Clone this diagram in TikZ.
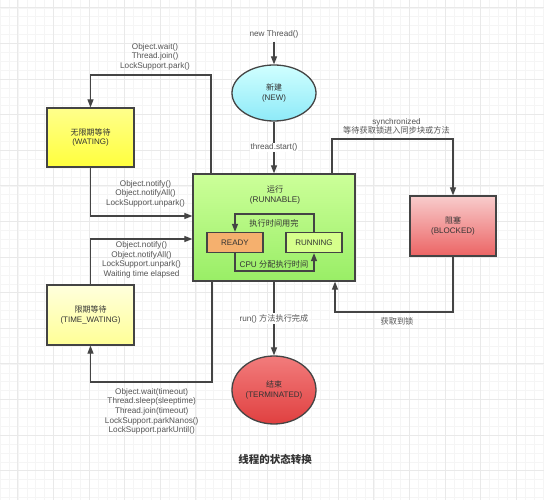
\documentclass[tikz,border=0pt]{standalone}
\usepackage{fontspec}
\setmainfont{Liberation Sans}
\newfontfamily\cjk{Noto Sans CJK SC}
\usetikzlibrary{shapes.geometric,arrows.meta}
\definecolor{linec}{HTML}{444444}
\definecolor{txtc}{HTML}{333333}
\definecolor{lblc}{HTML}{555555}
\definecolor{gminor}{HTML}{F5F5F5}
\definecolor{gmajor}{HTML}{E9E9E9}
\tikzset{
  state/.style={draw=linec, line width=1.3pt, text=txtc, font=\fontsize{8}{9.4}\selectfont, align=center, inner sep=0pt},
  box/.style={state, rectangle},
  oval/.style={state, ellipse},
  conn/.style={draw=linec, line width=1.2pt, -{Triangle[length=8pt,width=6pt]}},
  lbl/.style={text=lblc, font=\fontsize{8.2}{9.6}\selectfont, align=center, inner sep=1pt},
  lblbg/.style={lbl, fill=white},
  minorgrid/.style={draw=gminor, line width=0.6pt},
  majorgrid/.style={draw=gmajor, line width=0.9pt}
}
\begin{document}
\begin{tikzpicture}[x=1pt,y=-1pt]
\useasboundingbox (0,0) rectangle (544,500);
\fill[white] (0,0) rectangle (544,500);
% grid
\foreach \i in {-2,...,62} {
  \draw[minorgrid] ({17.9+\i*8.9},0) -- ({17.9+\i*8.9},500);
  \draw[minorgrid] (0,{7.9+\i*8.9}) -- (544,{7.9+\i*8.9});
}
\foreach \i in {-1,...,15} {
  \draw[majorgrid] ({17.9+\i*35.6},0) -- ({17.9+\i*35.6},500);
  \draw[majorgrid] (0,{7.9+\i*35.6}) -- (544,{7.9+\i*35.6});
}

% states
\node[oval, minimum width=84pt, minimum height=56pt, top color={rgb,255:red,208;green,255;blue,255}, bottom color={rgb,255:red,142;green,234;blue,248}] (new) at (274,93) {{\cjk 新建}\\(NEW)};
\node[box, minimum width=162pt, minimum height=107pt, top color={rgb,255:red,204;green,255;blue,153}, bottom color={rgb,255:red,153;green,238;blue,102}] (runnable) at (274,227.5) {};
\node[lbl, text=txtc] (runtxt) at (275,195) {{\cjk 运行}\\(RUNNABLE)};
\node[box, minimum width=56pt, minimum height=20pt, fill={rgb,255:red,245;green,176;blue,110}] (ready) at (235,242.5) {READY};
\node[box, minimum width=56pt, minimum height=20pt, fill={rgb,255:red,214;green,255;blue,140}] (running) at (314,242.5) {RUNNING};
\node[box, minimum width=87pt, minimum height=59pt, top color={rgb,255:red,255;green,255;blue,140}, bottom color={rgb,255:red,255;green,255;blue,60}] (waiting) at (90.5,137.5) {{\cjk 无限期等待}\\(WATING)};
\node[box, minimum width=87pt, minimum height=60pt, top color={rgb,255:red,255;green,255;blue,221}, bottom color={rgb,255:red,255;green,255;blue,150}] (tw) at (90.5,315) {{\cjk 限期等待}\\(TIME\_WATING)};
\node[box, minimum width=86pt, minimum height=60pt, top color={rgb,255:red,248;green,204;blue,204}, bottom color={rgb,255:red,236;green,100;blue,100}] (blocked) at (453,226) {{\cjk 阻塞}\\(BLOCKED)};
\node[oval, minimum width=84pt, minimum height=68pt, top color={rgb,255:red,242;green,124;blue,124}, bottom color={rgb,255:red,224;green,64;blue,64}] (term) at (274,390) {{\cjk 结束}\\(TERMINATED)};

% new -> runnable
\node[lbl] (newlbl) at (274,34.5) {new Thread()};
\draw[conn] (new.north |- newlbl.south) ++(0,2) -- (new.north);
\draw[conn] (new.south) -- node[lblbg] {thread.start()} (runnable.north);

% inner loop
\coordinate (looptop) at (274,214);
\coordinate (loopbot) at (274,271);
\draw[conn] (running.north) |- (looptop) -| (ready.north);
\draw[conn] (ready.south) |- (loopbot) -| (running.south);
\node[lbl, text=txtc] (lt) at (274,223) {\cjk 执行时间用完};
\node[lbl, text=txtc] (lb) at (274,264) {CPU {\cjk 分配执行时间}};

% runnable -> waiting
\coordinate (c1) at (211,75);
\draw[conn] (c1 |- runnable.north) -- (c1) -| (waiting.north);
\node[lbl] (l1) at (155,56.5) {Object.wait()\\Thread.join()\\LockSupport.park()};
% waiting -> runnable
\coordinate (c2) at (91,216);
\draw[conn] (waiting.south) |- (runnable.west |- c2);
\node[lbl] (l2) at (145.5,193.5) {Object.notify()\\Object.notifyAll()\\LockSupport.unpark()};
% time waiting -> runnable
\coordinate (c3) at (91,239);
\draw[conn] (tw.north) |- (runnable.west |- c3);
\node[lbl] (l3) at (141.5,260) {Object.notify()\\Object.notifyAll()\\LockSupport.unpark()\\Waiting time elapsed};
% runnable -> time waiting
\coordinate (c4) at (212,382);
\draw[conn] (c4 |- runnable.south) -- (c4) -| (tw.south);
\node[lbl] (l4) at (151.7,411.3) {Object.wait(timeout)\\Thread.sleep(sleeptime)\\Thread.join(timeout)\\LockSupport.parkNanos()\\LockSupport.parkUntil()};
% runnable -> blocked
\coordinate (c5) at (332,139);
\draw[conn] (c5 |- runnable.north) -- (c5) -| (blocked.north);
\node[lbl] (l5) at (396.5,126.4) {synchronized\\{\cjk 等待获取锁进入同步块或方法}};
% blocked -> runnable
\coordinate (c6) at (335,312);
\draw[conn] (blocked.south) |- (c6) -- (c6 |- runnable.south);
\node[lbl] (l6) at (397,321) {\cjk 获取到锁};
% runnable -> terminated
\draw[conn] (runnable.south) -- node[lblbg] {run() {\cjk 方法执行完成}} (term.north);

% title
\node[text=txtc, font=\fontsize{10.5}{12}\selectfont\cjk\bfseries] (title) at (275,459.5) {线程的状态转换};
\end{tikzpicture}
\end{document}
